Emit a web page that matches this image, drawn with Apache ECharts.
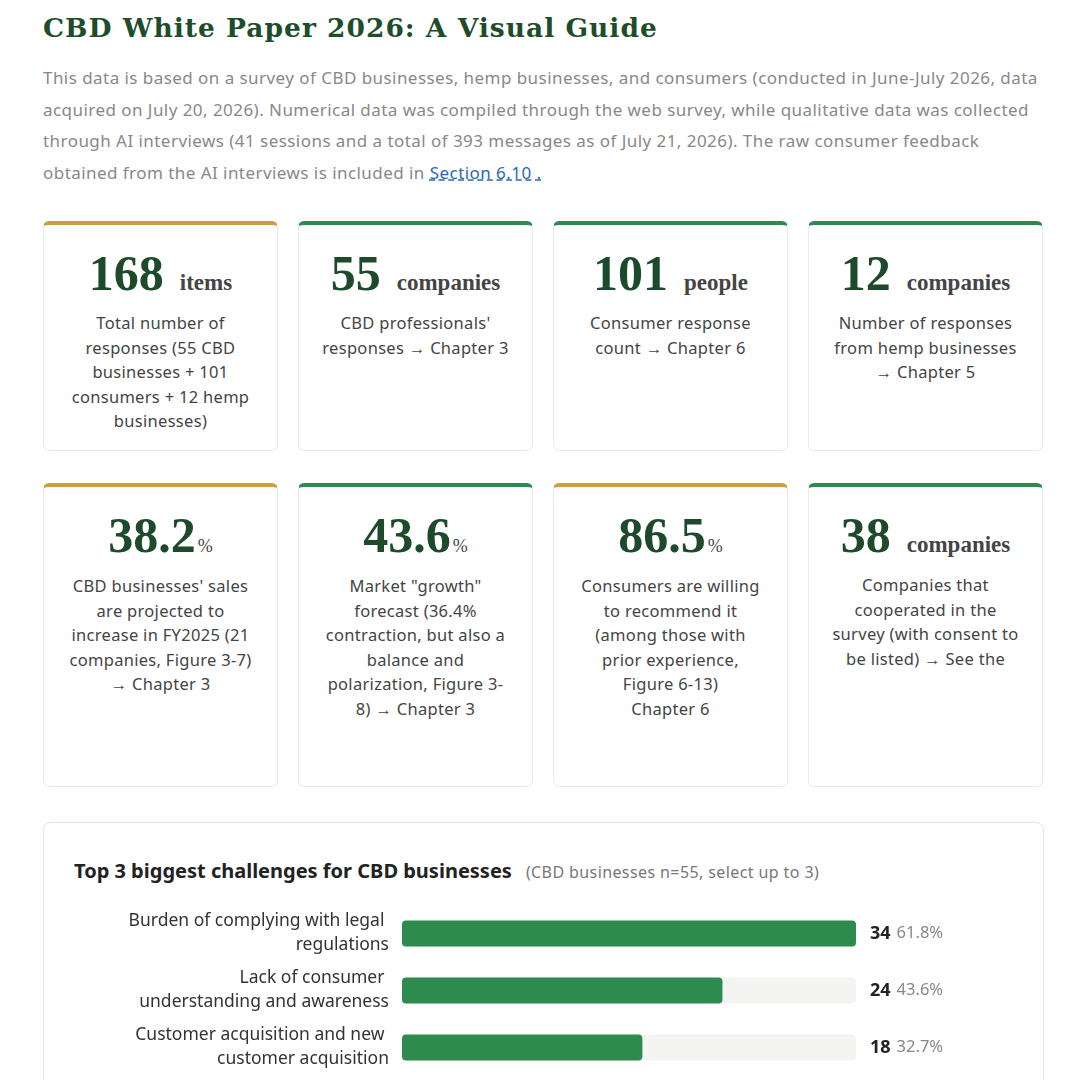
<!DOCTYPE html>
<html><head><meta charset="utf-8">
<script src="https://cdn.jsdelivr.net/npm/echarts@6/dist/echarts.min.js"></script>
<style>
body{margin:0;background:#fff;font-family:"Noto Sans",sans-serif;width:1080px;height:1080px;overflow:hidden;position:relative}
h1{position:absolute;left:43px;top:12px;margin:0;font-family:"DejaVu Serif",serif;font-size:26.5px;font-weight:bold;color:#1e4d2b;letter-spacing:1px}
p.lead{position:absolute;left:43px;top:62px;width:1000px;margin:0;font-size:17px;line-height:31.5px;color:#888;letter-spacing:0.45px}
p.lead a{color:#2a6ab0;text-decoration:underline dashed #2a6ab0}
.card{position:absolute;width:235px;border:1px solid #ebebeb;border-radius:6px;box-sizing:border-box;text-align:center;padding:0 22px}
.card .num{font-family:"Liberation Serif",serif;font-weight:bold;color:#1d4a2a;font-size:50px;margin-top:20px;line-height:56px}
.card .unit{font-family:"Liberation Serif",serif;font-size:23px;color:#444;margin-left:16px;font-weight:bold}
.card .unit.pct{font-size:18px;margin-left:2px;font-weight:normal}
.card .txt{font-size:16.5px;line-height:24.6px;color:#444;margin-top:0px;letter-spacing:0.3px}
.panel{position:absolute;left:43px;top:822px;width:1001px;height:300px;border:1px solid #e3e3e3;border-radius:8px;box-sizing:border-box}
.panel h2{position:absolute;left:30px;top:34px;margin:0;font-size:20px;font-weight:bold;color:#222}
.panel h2 span{font-size:16px;font-weight:normal;color:#777;margin-left:14px;letter-spacing:0.4px}
#chart{position:absolute;left:43px;top:902px;width:1001px;height:178px}
</style></head><body>
<h1>CBD White Paper 2026: A Visual Guide</h1>
<p class="lead">This data is based on a survey of CBD businesses, hemp businesses, and consumers (conducted in June-July 2026, data acquired on July 20, 2026). Numerical data was compiled through the web survey, while qualitative data was collected through AI interviews (41 sessions and a total of 393 messages as of July 21, 2026). The raw consumer feedback obtained from the AI interviews is included in <a>Section 6.10 .</a></p>
<div id="cards"></div>
<div class="panel"><h2>Top 3 biggest challenges for CBD businesses<span>(CBD businesses n=55, select up to 3)</span></h2></div>
<div id="chart"></div>
<script>
const cardNums=["168","55","101","12","38.2","43.6","86.5","38"];
const cardUnits=["items","companies","people","companies","%","%","%","companies"];
const cardTexts=["Total number of responses (55 CBD businesses + 101 consumers + 12 hemp businesses)","CBD professionals' responses → Chapter 3","Consumer response count → Chapter 6","Number of responses from hemp businesses → Chapter 5","CBD businesses' sales are projected to increase in FY2025 (21 companies, Figure 3-7) → Chapter 3","Market \"growth\" forecast (36.4% contraction, but also a balance and polarization, Figure 3-8) → Chapter 3","Consumers are willing to recommend it (among those with prior experience, Figure 6-13)<br>Chapter 6","Companies that cooperated in the survey (with consent to be listed) → See the"];
const cardAccents=["#c9a03c","#2e8b4e","#2e8b4e","#2e8b4e","#c9a03c","#2e8b4e","#c9a03c","#2e8b4e"];
const categories=["Burden of complying with legal regulations","Lack of consumer understanding and awareness","Customer acquisition and new customer acquisition"];
const counts=[34,24,18];
const percents=["61.8%","43.6%","32.7%"];

const lefts=[43,298,553,808];
let html="";
cardNums.forEach((n,i)=>{
  const r=Math.floor(i/4),c=i%4;
  const top=r?483:221,h=r?304:230;
  const pct=cardUnits[i]==="%";
  html+=`<div class="card" style="left:${lefts[c]}px;top:${top}px;height:${h}px;border-top:4px solid ${cardAccents[i]}"><div class="num">${n}<span class="unit${pct?' pct':''}">${cardUnits[i]}</span></div><div class="txt">${cardTexts[i]}</div></div>`;
});
document.getElementById("cards").innerHTML=html;

const chart=echarts.init(document.getElementById("chart"));
chart.setOption({
  animation:false,
  grid:{left:359,right:188,top:3,height:171},
  xAxis:{type:"value",min:0,max:34,show:false},
  yAxis:[{type:"category",data:categories,inverse:true,axisLine:{show:false},axisTick:{show:false},
    axisLabel:{width:268,overflow:"break",align:"right",margin:13,fontSize:17.5,lineHeight:24,color:"#333",fontFamily:"Noto Sans"}},
   {type:"category",position:"right",data:categories.map((c,i)=>i),inverse:true,axisLine:{show:false},axisTick:{show:false},
    axisLabel:{margin:14,align:"left",formatter:(v)=>`{a|${counts[v]}}{b|${percents[v]}}`,
      rich:{a:{fontSize:18,fontWeight:"bold",color:"#222",fontFamily:"Noto Sans",padding:[0,6,0,0]},b:{fontSize:16.5,color:"#888",fontFamily:"Noto Sans"}}}}],
  series:[{type:"bar",data:counts,barWidth:26,showBackground:true,
    backgroundStyle:{color:"#f4f4f2",borderRadius:4},itemStyle:{color:"#2e8b4e",borderRadius:4}}]
});
</script>
</body></html>
